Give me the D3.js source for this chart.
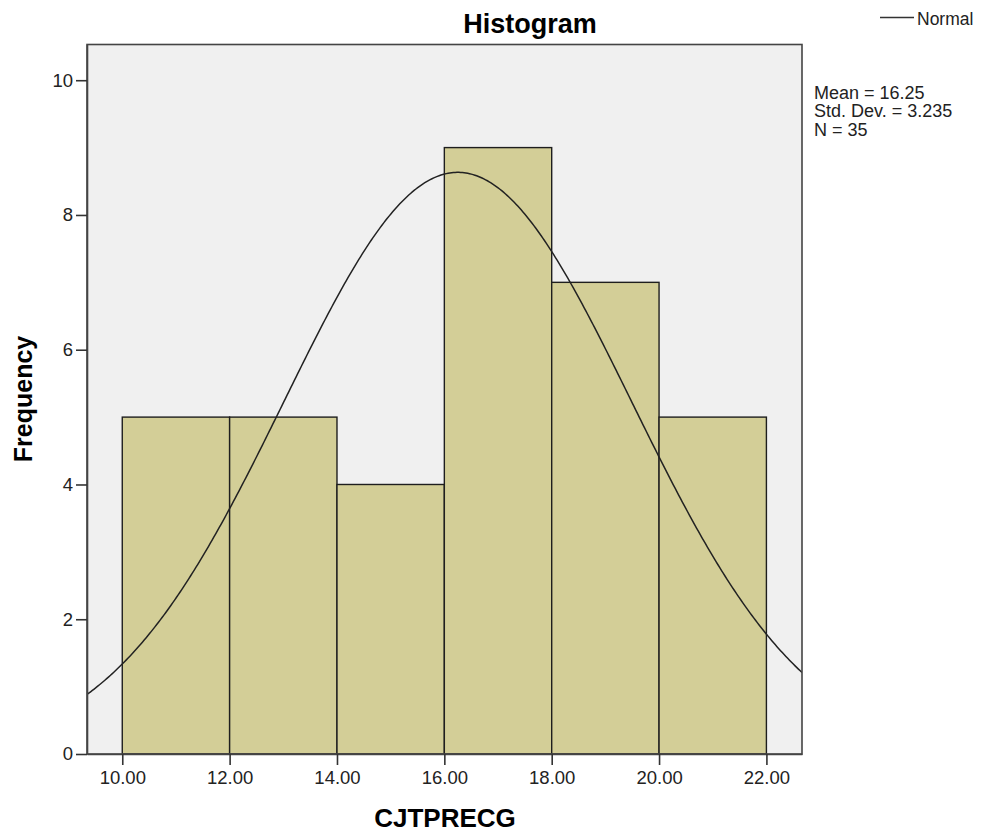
<!DOCTYPE html>
<html>
<head>
<meta charset="utf-8">
<script src="https://cdn.jsdelivr.net/npm/d3@7"></script>
<style>
  html, body { margin: 0; padding: 0; background: #ffffff; }
  svg { display: block; font-family: Arial, "Liberation Sans", sans-serif; }
</style>
</head>
<body>
<script>
// Histogram of CJTPRECG with fitted normal curve
const binStarts = [10, 12, 14, 16, 18, 20];
const binWidth = 2;
const frequencies = [5, 5, 4, 9, 7, 5];
const xTicks = [10, 12, 14, 16, 18, 20, 22];
const yTicks = [0, 2, 4, 6, 8, 10];
const meanValue = 16.25;
const stdDev = 3.235;
const nCount = 35;
const statLines = ["Mean = 16.25", "Std. Dev. = 3.235", "N = 35"];

const width = 985, height = 835;
const plot = { left: 87, right: 802, top: 44.5, bottom: 754 };

const svg = d3.select("body").append("svg")
  .attr("width", width).attr("height", height);

const x = d3.scaleLinear().domain([9.343, 22.663]).range([plot.left, plot.right]);
const y = d3.scaleLinear().domain([0, 10.53]).range([plot.bottom, plot.top]);

// plot background
svg.append("rect")
  .attr("x", plot.left).attr("y", plot.top)
  .attr("width", plot.right - plot.left).attr("height", plot.bottom - plot.top)
  .attr("fill", "#f0f0f0");

svg.append("clipPath").attr("id", "plotClip")
  .append("rect")
  .attr("x", plot.left).attr("y", plot.top)
  .attr("width", plot.right - plot.left).attr("height", plot.bottom - plot.top);

// bars
svg.append("g").selectAll("rect")
  .data(binStarts.map((s, i) => ({ s, f: frequencies[i] })))
  .join("rect")
  .attr("x", d => x(d.s))
  .attr("y", d => y(d.f))
  .attr("width", d => x(d.s + binWidth) - x(d.s))
  .attr("height", d => y(0) - y(d.f))
  .attr("fill", "#d3ce97")
  .attr("stroke", "#1e1e1e")
  .attr("stroke-width", 1.4);

// normal curve scaled to counts
const scaleFactor = nCount * binWidth / (stdDev * Math.sqrt(2 * Math.PI));
const curvePts = d3.range(0, 401).map(i => {
  const v = x.domain()[0] + (x.domain()[1] - x.domain()[0]) * i / 400;
  return [v, scaleFactor * Math.exp(-0.5 * Math.pow((v - meanValue) / stdDev, 2))];
});
svg.append("path")
  .datum(curvePts)
  .attr("clip-path", "url(#plotClip)")
  .attr("fill", "none")
  .attr("stroke", "#222")
  .attr("stroke-width", 1.5)
  .attr("d", d3.line().x(d => x(d[0])).y(d => y(d[1])));

// frame
svg.append("rect")
  .attr("x", plot.left).attr("y", plot.top)
  .attr("width", plot.right - plot.left).attr("height", plot.bottom - plot.top)
  .attr("fill", "none")
  .attr("stroke", "#444")
  .attr("stroke-width", 1.6);

// axes
const yAxis = svg.append("g")
  .attr("transform", `translate(${plot.left},0)`)
  .call(d3.axisLeft(y).tickValues(yTicks).tickSizeInner(11).tickSizeOuter(0)
    .tickPadding(3).tickFormat(d3.format("d")));
const xAxis = svg.append("g")
  .attr("transform", `translate(0,${plot.bottom})`)
  .call(d3.axisBottom(x).tickValues(xTicks).tickSizeInner(11).tickSizeOuter(0)
    .tickPadding(6).tickFormat(d3.format(".2f")));

[xAxis, yAxis].forEach(g => {
  g.select(".domain").attr("stroke", "#444").attr("stroke-width", 1.6);
  g.selectAll(".tick line").attr("stroke", "#333").attr("stroke-width", 1.6);
  g.selectAll(".tick text")
    .attr("fill", "#222")
    .style("font-size", "18.5px")
    .style("font-family", "Arial, 'Liberation Sans', sans-serif");
});

// title
svg.append("text")
  .attr("x", 530).attr("y", 33)
  .attr("text-anchor", "middle")
  .style("font-size", "27px").style("font-weight", "bold")
  .attr("fill", "#000")
  .text("Histogram");

// axis titles
svg.append("text")
  .attr("x", 445).attr("y", 827)
  .attr("text-anchor", "middle")
  .style("font-size", "26px").style("font-weight", "bold")
  .attr("fill", "#000")
  .text("CJTPRECG");

svg.append("text")
  .attr("transform", "translate(32,399) rotate(-90)")
  .attr("text-anchor", "middle")
  .style("font-size", "25px").style("font-weight", "bold")
  .attr("fill", "#000")
  .text("Frequency");

// legend
svg.append("line")
  .attr("x1", 880).attr("x2", 914).attr("y1", 17.5).attr("y2", 17.5)
  .attr("stroke", "#333").attr("stroke-width", 1.5);
svg.append("text")
  .attr("x", 917).attr("y", 25)
  .style("font-size", "17.5px").attr("fill", "#222")
  .text("Normal");

// summary statistics
svg.append("g").selectAll("text")
  .data(statLines)
  .join("text")
  .attr("x", 814)
  .attr("y", (d, i) => 99 + i * 18.4)
  .style("font-size", "18px").attr("fill", "#222")
  .text(d => d);
</script>
</body>
</html>
